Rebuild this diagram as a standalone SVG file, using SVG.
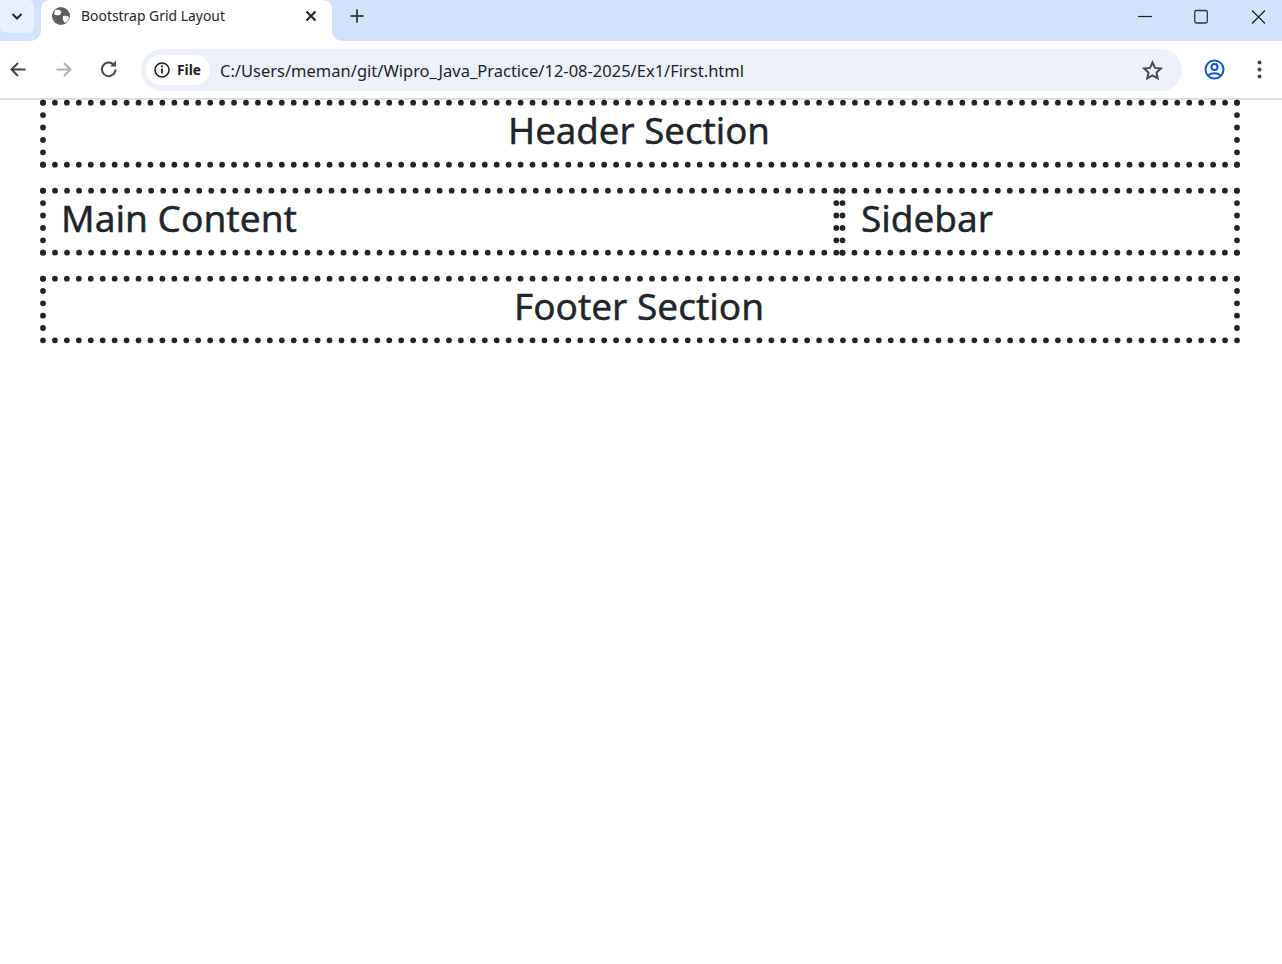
<svg xmlns="http://www.w3.org/2000/svg" width="1282" height="964" viewBox="0 0 1282 964">
<style>
.dot{fill:none;stroke:#212529;stroke-width:5.8;stroke-linecap:round}
.h{font-family:"Noto Sans","Open Sans","Liberation Sans",sans-serif;font-size:36px;fill:#212529;stroke:#212529;stroke-width:.4}
.ui{font-family:"Noto Sans","Open Sans","Liberation Sans",sans-serif;fill:#1f1f1f}
.ic{fill:none;stroke:#474747;stroke-width:2}
</style>
<rect width="1282" height="964" fill="#fff"/>
<g id="browser-chrome">
<rect x="0" y="0" width="1282" height="41" fill="#d3e3fd"/>
<path d="M0,0H27Q34,0 34,7V26Q34,33 27,33H8Q0,33 0,25Z" fill="#e9f0fd"/>
<path d="M29,41Q41,41 41,29V10Q41,0 51,0H322Q332,0 332,10V29Q332,41 344,41Z" fill="#fff"/>
<path d="M12.500,14l4.500,4.500l4.500,-4.500" fill="none" stroke="#1f1f1f" stroke-width="2"/>
<circle cx="61" cy="16" r="9" fill="#5b5e63"/>
<path d="M55,10q4,-1 6,1q1,3 -2,4q-3,1 -5,-1zM63,16q4,-1 6,1q0,4 -4,6q-3,-3 -2,-7z" fill="#fff"/>
<text class="ui" x="81" y="21" font-size="14" textLength="144" lengthAdjust="spacingAndGlyphs">Bootstrap Grid Layout</text>
<path d="M306.500,11.500l9,9m0,-9l-9,9" fill="none" stroke="#1f1f1f" stroke-width="2"/>
<path d="M357,9.500v13M350.500,16h13" fill="none" stroke="#474747" stroke-width="2"/>
<path d="M1138,16.500h14" stroke="#1f1f1f" stroke-width="1.200"/>
<rect x="1194.800" y="10.500" width="12.500" height="12.500" rx="1.500" fill="none" stroke="#333" stroke-width="1.300"/>
<path d="M1252,10.500l13,13m0,-13l-13,13" fill="none" stroke="#1f1f1f" stroke-width="1.200"/>
<rect x="0" y="41" width="1282" height="57" fill="#fff"/>
<rect x="0" y="98" width="1282" height="2" fill="#dedfe0"/>
<path d="M25.500,69.500h-14M18,63l-6.500,6.500l6.500,6.500" class="ic"/>
<path d="M70.500,69.500h-14M64,63l6.500,6.500l-6.500,6.500" fill="none" stroke="#b0b1b3" stroke-width="2"/>
<path d="M115.500,69.500a6.800,6.800 0 1 1 -2,-5" class="ic"/>
<path d="M116,60.500v6h-6z" fill="#474747"/>
<rect x="141" y="49" width="1041" height="42" rx="21" fill="#ecf1f9"/>
<rect x="146" y="55" width="64" height="30" rx="15" fill="#fff"/>
<circle cx="162" cy="70" r="7" fill="none" stroke="#1f1f1f" stroke-width="1.600"/>
<path d="M162,68.500v5M162,65.500v1.800" stroke="#1f1f1f" stroke-width="1.800" fill="none"/>
<text class="ui" x="177" y="75" font-size="14" font-weight="700" textLength="24" lengthAdjust="spacingAndGlyphs">File</text>
<text class="ui" x="220" y="76.500" font-size="17" textLength="524" lengthAdjust="spacingAndGlyphs">C:/Users/meman/git/Wipro_Java_Practice/12-08-2025/Ex1/First.html</text>
<path d="M1152.500,62.500l2.500,5.400l5.900,.7l-4.400,4l1.200,5.800l-5.200,-2.900l-5.200,2.900l1.200,-5.800l-4.400,-4l5.900,-.7z" fill="none" stroke="#474747" stroke-width="2"/>
<g fill="none" stroke="#0b57d0" stroke-width="2"><circle cx="1214.500" cy="69.500" r="9"/><circle cx="1214.500" cy="67" r="3"/><path d="M1208,75.500q6.500,-4.500 13,0"/></g>
<g fill="#474747"><circle cx="1259.500" cy="62.500" r="2"/><circle cx="1259.500" cy="69.500" r="2"/><circle cx="1259.500" cy="76.500" r="2"/></g>
</g>
<g id="connectors"></g>
<g id="header-section">
<path class="dot" stroke-dasharray="0 11.94" d="M43,102.700H1237"/>
<path class="dot" stroke-dasharray="0 11.94" d="M43,164.700H1237"/>
<path class="dot" stroke-dasharray="0 12.400" d="M43,102.700V164.700"/>
<path class="dot" stroke-dasharray="0 12.400" d="M1237,102.700V164.700"/>
<text class="h" x="639" y="144" text-anchor="middle" textLength="262" lengthAdjust="spacingAndGlyphs">Header Section</text>
</g>
<g id="main-content">
<path class="dot" stroke-dasharray="0 12.02" d="M43,190.700H836.300"/>
<path class="dot" stroke-dasharray="0 12.02" d="M43,252.700H836.300"/>
<path class="dot" stroke-dasharray="0 12.400" d="M43,190.700V252.700"/>
<path class="dot" stroke-dasharray="0 12.400" d="M836.300,190.700V252.700"/>
<text class="h" x="61" y="232" textLength="236" lengthAdjust="spacingAndGlyphs">Main Content</text>
</g>
<g id="sidebar">
<path class="dot" stroke-dasharray="0 11.95" d="M842.500,190.700H1237"/>
<path class="dot" stroke-dasharray="0 11.95" d="M842.500,252.700H1237"/>
<path class="dot" stroke-dasharray="0 12.400" d="M842.500,190.700V252.700"/>
<path class="dot" stroke-dasharray="0 12.400" d="M1237,190.700V252.700"/>
<text class="h" x="861" y="232" textLength="132" lengthAdjust="spacingAndGlyphs">Sidebar</text>
</g>
<g id="footer-section">
<path class="dot" stroke-dasharray="0 11.94" d="M43,278.700H1237"/>
<path class="dot" stroke-dasharray="0 11.94" d="M43,340.300H1237"/>
<path class="dot" stroke-dasharray="0 12.320" d="M43,278.700V340.300"/>
<path class="dot" stroke-dasharray="0 12.320" d="M1237,278.700V340.300"/>
<text class="h" x="639" y="320" text-anchor="middle" textLength="250" lengthAdjust="spacingAndGlyphs">Footer Section</text>
</g>
</svg>
